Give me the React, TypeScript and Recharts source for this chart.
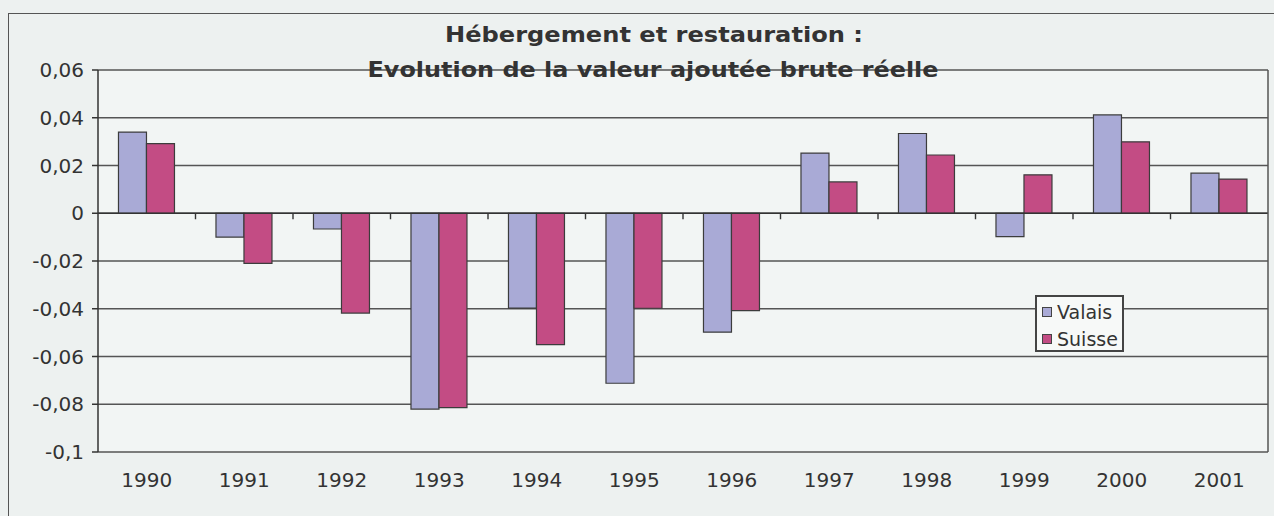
import { BarChart, Bar, XAxis, YAxis, CartesianGrid, Legend, ReferenceLine } from "recharts";

const YEARS = ["1990", "1991", "1992", "1993", "1994", "1995", "1996", "1997", "1998", "1999", "2000", "2001"];
const VALAIS = [0.034, -0.01, -0.0066, -0.082, -0.0397, -0.0712, -0.0498, 0.0252, 0.0334, -0.0098, 0.0412, 0.0168];
const SUISSE = [0.0292, -0.021, -0.0418, -0.0814, -0.055, -0.0398, -0.0408, 0.0131, 0.0244, 0.0161, 0.0299, 0.0143];
const Y_TICKS = [-0.1, -0.08, -0.06, -0.04, -0.02, 0, 0.02, 0.04, 0.06];
const SERIES = ["Valais", "Suisse"];
const TITLE = ["Hébergement et restauration :", "Evolution de la valeur ajoutée brute réelle"];

const VALAIS_COLOR = "#a9aad6";
const SUISSE_COLOR = "#c34c84";
const INK = "#333";
const GRID = "#555";

const data = YEARS.map((year, i) => ({ year, Valais: VALAIS[i], Suisse: SUISSE[i] }));

const fmt = (v: number) => (v === 0 ? "0" : String(Number(v.toFixed(2))).replace(".", ","));

// zero line with small ticks between categories, like the old Excel axis
function ZeroAxis(props: any) {
  const { x1, y1, x2 } = props;
  const step = (x2 - x1) / YEARS.length;
  return (
    <g>
      <line x1={x1} y1={y1} x2={x2} y2={y1} stroke={INK} strokeWidth={1.6} />
      {YEARS.slice(1).map((_, i) => (
        <line key={i} x1={x1 + step * (i + 1)} y1={y1} x2={x1 + step * (i + 1)} y2={y1 + 6} stroke={INK} strokeWidth={1.4} />
      ))}
    </g>
  );
}

function LegendBox({ payload }: any) {
  const items = [...(payload || [])].sort((a: any, b: any) => SERIES.indexOf(a.value) - SERIES.indexOf(b.value));
  return (
    <div
      style={{
        width: 89,
        height: 57,
        border: "2px solid #444",
        background: "#f7f9f8",
        boxSizing: "border-box",
        paddingLeft: 5,
        paddingTop: 1,
        fontFamily: "DejaVu Sans",
        fontSize: 19,
        color: INK,
      }}
    >
      {items.map((p: any) => (
        <div key={p.value} style={{ display: "flex", alignItems: "center", height: 27 }}>
          <span style={{ width: 8, height: 8, background: p.color, border: "1px solid #444", marginRight: 5 }} />
          {p.value}
        </div>
      ))}
    </div>
  );
}

export default function App() {
  return (
    <div style={{ position: "fixed", left: 0, top: 0, width: 1274, height: 516, background: "#edf1f0", overflow: "hidden" }}>
      <div style={{ position: "absolute", left: 8, top: 13, width: 1400, height: 700, borderLeft: `1.5px solid ${GRID}`, borderTop: `1.5px solid ${GRID}` }} />
      <BarChart
        width={1274}
        height={516}
        data={data}
        margin={{ top: 70, right: 5, bottom: 24, left: 8 }}
        barCategoryGap="21%"
        barGap={0}
      >
        <CartesianGrid vertical={false} stroke={GRID} strokeWidth={1.3} fill="#f2f5f4" />
        <XAxis dataKey="year" height={40} axisLine={false} tickLine={false} tickMargin={15} tick={{ fill: INK, fontSize: 20, fontFamily: "DejaVu Sans" }} />
        <YAxis
          domain={[-0.1, 0.06]}
          ticks={Y_TICKS}
          width={90}
          tickFormatter={fmt}
          interval={0}
          axisLine={{ stroke: INK, strokeWidth: 1.5 }}
          tickLine={{ stroke: INK, strokeWidth: 1.5 }}
          tickSize={6}
          tickMargin={8}
          tick={{ fill: INK, fontSize: 20, fontFamily: "DejaVu Sans" }}
        />
        <YAxis yAxisId="r" orientation="right" domain={[-0.1, 0.06]} width={1} tick={false} tickLine={false} axisLine={{ stroke: GRID, strokeWidth: 1.5 }} />
        <ReferenceLine y={0} shape={ZeroAxis} />
        <Bar dataKey="Valais" fill={VALAIS_COLOR} stroke="#3c3c3c" strokeWidth={1.2} isAnimationActive={false} />
        <Bar dataKey="Suisse" fill={SUISSE_COLOR} stroke="#3c3c3c" strokeWidth={1.2} isAnimationActive={false} />
        <Legend layout="vertical" align="center" verticalAlign="middle" wrapperStyle={{ left: 1035, top: 295, width: 89 }} content={LegendBox} />
      </BarChart>
      <svg width={1274} height={516} style={{ position: "absolute", left: 0, top: 0, pointerEvents: "none" }}>
        <text x={654} y={42} textAnchor="middle" textLength={418} lengthAdjust="spacingAndGlyphs" fontFamily="DejaVu Sans" fontWeight="bold" fontSize={22} fill={INK}>
          {TITLE[0]}
        </text>
        <text x={653} y={77} textAnchor="middle" textLength={571} lengthAdjust="spacingAndGlyphs" fontFamily="DejaVu Sans" fontWeight="bold" fontSize={22} fill={INK}>
          {TITLE[1]}
        </text>
      </svg>
    </div>
  );
}
